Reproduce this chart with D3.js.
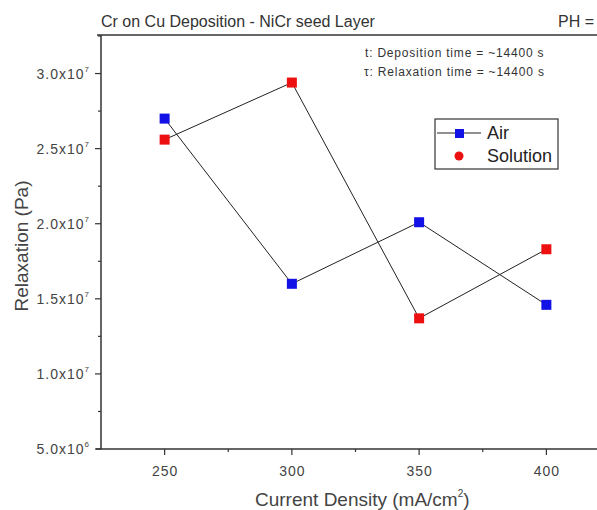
<!DOCTYPE html>
<html>
<head>
<meta charset="utf-8">
<script src="https://cdn.jsdelivr.net/npm/d3@7"></script>
<style>
  body { margin: 0; background: #fff; }
  text { font-family: "Liberation Sans", Arial, sans-serif; }
</style>
</head>
<body>
<div id="container"></div>
<script>
const W = 597;
const H = 510;

// data
const density = [250, 300, 350, 400];
const air = [2.70e7, 1.60e7, 2.01e7, 1.46e7];
const solution = [2.56e7, 2.94e7, 1.37e7, 1.83e7];
const xTicks = [250, 300, 350, 400];
const yTicks = [5e6, 1e7, 1.5e7, 2e7, 2.5e7, 3e7];
const yTickLabels = [["5.0x10", "6"], ["1.0x10", "7"], ["1.5x10", "7"], ["2.0x10", "7"], ["2.5x10", "7"], ["3.0x10", "7"]];

const LEFT = 101, TOP = 35, BOTTOM = 449, RIGHT = 610;

const svg = d3.select("#container").append("svg")
  .attr("width", W).attr("height", H);

const x = d3.scaleLinear().domain([225, 425]).range([LEFT, RIGHT]);
const y = d3.scaleLinear().domain([5e6, 3.25e7]).range([BOTTOM, 36]);

const axisColor = "#333";

// frame: top line and axes
svg.append("line")
  .attr("x1", 97).attr("x2", W).attr("y1", TOP).attr("y2", TOP)
  .attr("stroke", axisColor).attr("stroke-width", 1.5);

svg.append("line")
  .attr("x1", LEFT).attr("x2", LEFT).attr("y1", TOP).attr("y2", BOTTOM)
  .attr("stroke", axisColor).attr("stroke-width", 1.5);

svg.append("line")
  .attr("x1", LEFT - 5).attr("x2", W).attr("y1", BOTTOM).attr("y2", BOTTOM)
  .attr("stroke", axisColor).attr("stroke-width", 1.5);

// x ticks
svg.selectAll(".xmajor").data(xTicks).enter().append("line")
  .attr("x1", d => x(d)).attr("x2", d => x(d))
  .attr("y1", BOTTOM).attr("y2", BOTTOM + 6)
  .attr("stroke", axisColor).attr("stroke-width", 1.2);

svg.selectAll(".xminor").data(xTicks.map(d => d + 25)).enter().append("line")
  .attr("x1", d => x(d)).attr("x2", d => x(d))
  .attr("y1", BOTTOM).attr("y2", BOTTOM + 3)
  .attr("stroke", axisColor).attr("stroke-width", 1.2);

svg.selectAll(".xlab").data(xTicks).enter().append("text")
  .attr("x", d => x(d) + 0.5).attr("y", 476)
  .attr("text-anchor", "middle")
  .attr("font-size", 14).attr("fill", "#444")
  .attr("letter-spacing", 1)
  .text(d => d);

// y ticks
svg.selectAll(".ymajor").data(yTicks).enter().append("line")
  .attr("x1", LEFT - 6).attr("x2", LEFT)
  .attr("y1", d => y(d)).attr("y2", d => y(d))
  .attr("stroke", axisColor).attr("stroke-width", 1.2);

svg.selectAll(".yminor").data(yTicks.map(d => d + 2.5e6)).enter().append("line")
  .attr("x1", LEFT - 3).attr("x2", LEFT)
  .attr("y1", d => y(d)).attr("y2", d => y(d))
  .attr("stroke", axisColor).attr("stroke-width", 1.2);

const ylab = svg.selectAll(".ylab").data(yTicks).enter().append("text")
  .attr("x", 89).attr("y", d => y(d) + 5)
  .attr("text-anchor", "end")
  .attr("font-size", 14).attr("fill", "#444")
  .attr("letter-spacing", 1);
ylab.append("tspan").text((d, i) => yTickLabels[i][0]);
ylab.append("tspan").attr("dy", -7).attr("font-size", 8).attr("letter-spacing", 0)
  .text((d, i) => yTickLabels[i][1]);

// axis titles
svg.append("text")
  .attr("transform", `translate(28,246) rotate(-90)`)
  .attr("text-anchor", "middle")
  .attr("font-size", 19).attr("fill", "#444")
  .text("Relaxation (Pa)");

const xt = svg.append("text")
  .attr("x", 255).attr("y", 506)
  .attr("font-size", 19).attr("fill", "#444");
xt.append("tspan").text("Current Density (mA/cm");
xt.append("tspan").attr("dy", -9).attr("font-size", 10).text("2");
xt.append("tspan").attr("dy", 9).text(")");

// title and notes
svg.append("text")
  .attr("x", 101).attr("y", 27)
  .attr("font-size", 16).attr("fill", "#333")
  .text("Cr on Cu Deposition - NiCr seed Layer");

svg.append("text")
  .attr("x", 558).attr("y", 27)
  .attr("font-size", 16).attr("fill", "#333")
  .text("PH =");

svg.append("text")
  .attr("x", 365).attr("y", 57)
  .attr("font-size", 12).attr("fill", "#333")
  .attr("letter-spacing", 0.8)
  .text("t: Deposition time = ~14400 s");

svg.append("text")
  .attr("x", 364).attr("y", 76)
  .attr("font-size", 12).attr("fill", "#333")
  .attr("letter-spacing", 0.8)
  .text("\u03c4: Relaxation time = ~14400 s");

// series
const blue = "#1212e6";
const red = "#ec1010";

const line = d3.line()
  .x(d => x(d[0]))
  .y(d => y(d[1]));

const airPts = density.map((d, i) => [d, air[i]]);
const solPts = density.map((d, i) => [d, solution[i]]);

svg.append("path").datum(airPts)
  .attr("d", line).attr("fill", "none")
  .attr("stroke", "#222").attr("stroke-width", 1);

svg.append("path").datum(solPts)
  .attr("d", line).attr("fill", "none")
  .attr("stroke", "#222").attr("stroke-width", 1);

const S = 10;
svg.selectAll(".air").data(airPts).enter().append("rect")
  .attr("x", d => x(d[0]) - S / 2).attr("y", d => y(d[1]) - S / 2)
  .attr("width", S).attr("height", S)
  .attr("fill", blue);

svg.selectAll(".sol").data(solPts).enter().append("rect")
  .attr("x", d => x(d[0]) - S / 2).attr("y", d => y(d[1]) - S / 2)
  .attr("width", S).attr("height", S)
  .attr("fill", red);

// legend
const legend = svg.append("g");
legend.append("rect")
  .attr("x", 435).attr("y", 119).attr("width", 123).attr("height", 50)
  .attr("fill", "#fff").attr("stroke", "#333").attr("stroke-width", 1.2);
legend.append("line")
  .attr("x1", 437).attr("x2", 481).attr("y1", 133).attr("y2", 133)
  .attr("stroke", "#222").attr("stroke-width", 1);
legend.append("rect")
  .attr("x", 455).attr("y", 129).attr("width", 9).attr("height", 9)
  .attr("fill", blue);
legend.append("text")
  .attr("x", 487).attr("y", 139)
  .attr("font-size", 18).attr("fill", "#222")
  .text("Air");
legend.append("circle")
  .attr("cx", 459).attr("cy", 156).attr("r", 4.5)
  .attr("fill", red);
legend.append("text")
  .attr("x", 487).attr("y", 162)
  .attr("font-size", 18).attr("fill", "#222")
  .text("Solution");
</script>
</body>
</html>
